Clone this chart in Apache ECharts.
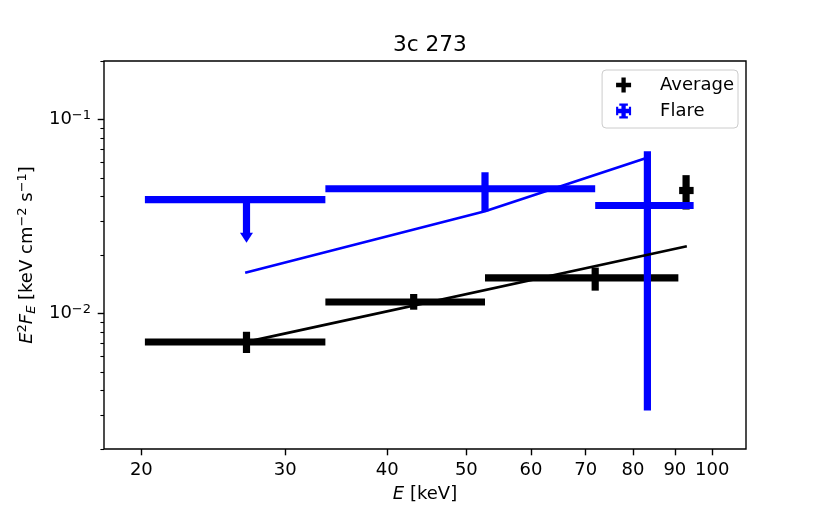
<!DOCTYPE html>
<html>
<head>
<meta charset="utf-8">
<script src="https://cdn.jsdelivr.net/npm/echarts@6/dist/echarts.min.js"></script>
</head>
<body style="margin: 0">
<div id="container" style="width: 830px; height: 513px"></div>
<script>
// energies in keV, E^2 F_E in keV cm^-2 s^-1
var avgE   = [26.9, 43.1, 71.9, 92.9];
var avgElo = [20.2, 33.6, 52.7, 91.1];
var avgEhi = [33.6, 52.7, 90.9, 94.9];
var avgF   = [0.00712, 0.01145, 0.01525, 0.0430];
var avgFlo = [0.00625, 0.01045, 0.0131, 0.0343];
var avgFhi = [0.00804, 0.01259, 0.01722, 0.0516];

var flareE   = [26.9, 52.7, 83.3];
var flareElo = [20.2, 33.6, 71.9];
var flareEhi = [33.6, 71.9, 94.9];
var flareF   = [0.0386, 0.0439, 0.0360];
var flareFlo = [0.0231, 0.0336, 0.00316];
var flareFhi = [0.0386, 0.0534, 0.0686];
var flareUL  = [1, 0, 0];   // first flare bin is an upper limit

// model lines
var avgModelE   = [26.9, 93.1];
var avgModelF   = [0.00713, 0.0222];
var flareModelE = [26.8, 52.7, 82.7];
var flareModelF = [0.0162, 0.0336, 0.0629];

var xTicks = [20, 30, 40, 50, 60, 70, 80, 90, 100];
var yMajor = [0.01, 0.1];
var yMinor = [0.002, 0.003, 0.004, 0.005, 0.006, 0.007, 0.008, 0.009,
              0.02, 0.03, 0.04, 0.05, 0.06, 0.07, 0.08, 0.09, 0.2];

var FONT = 'DejaVu Sans';

function rows(e, lo, hi, f, flo, fhi, ul) {
    return e.map(function (v, i) {
        return [lo[i], hi[i], v, f[i], flo[i], fhi[i], ul ? ul[i] : 0];
    });
}
function pairs(xs, ys) {
    return xs.map(function (x, i) { return [x, ys[i]]; });
}

function renderErr(params, api) {
    var color = api.visual('color');
    var y = api.value(3), xc = api.value(2);
    var a = api.coord([api.value(0), y]);
    var b = api.coord([api.value(1), y]);
    var top = api.coord([xc, api.value(5)]);
    var bot = api.coord([xc, api.value(4)]);
    var st = { stroke: color, lineWidth: 7.2, lineCap: 'butt' };
    var kids = [{ type: 'line', shape: { x1: a[0], y1: a[1], x2: b[0], y2: b[1] }, style: st }];
    if (api.value(6)) {
        kids.push({ type: 'line', shape: { x1: top[0], y1: top[1], x2: bot[0], y2: bot[1] - 9 }, style: st });
        kids.push({ type: 'polygon', shape: { points: [[bot[0] - 6.5, bot[1] - 10], [bot[0] + 6.5, bot[1] - 10], [bot[0], bot[1]]] },
                    style: { fill: color } });
    } else {
        kids.push({ type: 'line', shape: { x1: top[0], y1: top[1], x2: bot[0], y2: bot[1] }, style: st });
    }
    return { type: 'group', children: kids };
}

var tickStyle = { color: '#000', width: 1.4 };

var myChart = echarts.init(document.getElementById('container'));
var option = {
    backgroundColor: '#fff',
    animation: false,
    textStyle: { fontFamily: FONT },
    title: {
        text: '3c 273',
        left: 388, top: 29,
        textStyle: { fontFamily: FONT, fontSize: 21.6, fontWeight: 'normal', color: '#000' }
    },
    grid: { left: 104, right: 84, top: 61, bottom: 64, show: true, borderColor: '#000', borderWidth: 1.4 },
    legend: {
        orient: 'vertical',
        right: 92, top: 70,
        padding: [5, 4, 7, 14],
        itemGap: 6,
        itemWidth: 15, itemHeight: 15,
        backgroundColor: '#fff',
        borderColor: '#cccccc', borderWidth: 1, borderRadius: 4,
        textStyle: { fontFamily: FONT, fontSize: 18, color: '#000', padding: [0, 0, 0, 24], lineHeight: 20 },
        data: [
            { name: 'Average', icon: 'path://M5 0H9V5H14V9H9V14H5V9H0V5H5Z' },
            { name: 'Flare', icon: 'path://M5 0H9V14H5Z M0 5H14V9H0Z M3 0H11V2H3Z M3 12H11V14H3Z M0 3H2V11H0Z M12 3H14V11H12Z' }
        ]
    },
    xAxis: {
        type: 'log',
        min: 18, max: 110,
        name: '{i|E} [keV]',
        nameLocation: 'middle',
        nameGap: 34,
        nameTextStyle: { fontFamily: FONT, fontSize: 18, color: '#000', lineHeight: 20,
                         rich: { i: { fontStyle: 'italic', fontFamily: FONT, fontSize: 18, lineHeight: 20 } } },
        axisLine: { show: false },
        axisTick: { show: true, length: 6.3, lineStyle: tickStyle, customValues: xTicks },
        axisLabel: { customValues: xTicks, margin: 12, fontSize: 18, color: '#000', fontFamily: FONT,
                     formatter: function (v) { return String(Math.round(v)); } },
        splitLine: { show: false },
        minorTick: { show: false }
    },
    yAxis: [{
        type: 'log',
        min: 0.002, max: 0.2,
        name: '{i|E}{sup|2}{i|F}{sub|E} [keV cm{sup|−2} s{sup|−1}]',
        nameLocation: 'middle',
        nameGap: 58,
        nameTextStyle: { fontFamily: FONT, fontSize: 18, color: '#000', lineHeight: 22,
            rich: {
                i: { fontStyle: 'italic', fontFamily: FONT, fontSize: 18, lineHeight: 22 },
                sup: { fontFamily: FONT, fontSize: 13, lineHeight: 13, verticalAlign: 'top' },
                sub: { fontStyle: 'italic', fontFamily: FONT, fontSize: 13, lineHeight: 13, verticalAlign: 'bottom' }
            } },
        axisLine: { show: false },
        axisTick: { show: true, length: 6.3, lineStyle: tickStyle, customValues: yMajor },
        axisLabel: {
            customValues: yMajor, margin: 13, fontSize: 18, color: '#000', fontFamily: FONT, lineHeight: 20,
            formatter: function (v) { return '10{sup|−' + Math.round(-Math.log10(v)) + '}'; },
            rich: { sup: { fontFamily: FONT, fontSize: 13, lineHeight: 13, verticalAlign: 'top', color: '#000' } }
        },
        splitLine: { show: false },
        minorTick: { show: false }
    }, {
        type: 'log',
        min: 0.002, max: 0.2,
        position: 'left',
        axisLine: { show: false },
        axisTick: { show: true, length: 3.6, lineStyle: { color: '#000', width: 1.1 }, customValues: yMinor },
        axisLabel: { show: false },
        splitLine: { show: false },
        minorTick: { show: false }
    }],
    series: [{
        name: 'Average',
        type: 'custom',
        renderItem: renderErr,
        clip: true,
        itemStyle: { color: '#000000' },
        encode: { x: [0, 1, 2], y: [3, 4, 5] },
        data: rows(avgE, avgElo, avgEhi, avgF, avgFlo, avgFhi)
    }, {
        name: 'Flare',
        type: 'custom',
        renderItem: renderErr,
        clip: true,
        itemStyle: { color: '#0000ff' },
        encode: { x: [0, 1, 2], y: [3, 4, 5] },
        data: rows(flareE, flareElo, flareEhi, flareF, flareFlo, flareFhi, flareUL)
    }, {
        name: 'Flare model',
        type: 'line',
        symbol: 'none',
        lineStyle: { color: '#0000ff', width: 2.7 },
        itemStyle: { color: '#0000ff' },
        data: pairs(flareModelE, flareModelF)
    }, {
        name: 'Average model',
        type: 'line',
        symbol: 'none',
        lineStyle: { color: '#000000', width: 2.7 },
        itemStyle: { color: '#000000' },
        data: pairs(avgModelE, avgModelF)
    }]
};
myChart.setOption(option);
</script>
</body>
</html>
